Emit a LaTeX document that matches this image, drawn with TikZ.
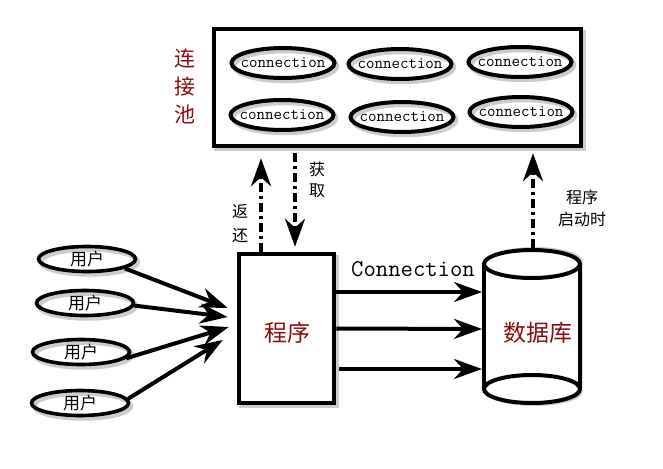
\documentclass[tikz,border=0pt]{standalone}
\usepackage{fontspec}
\newfontfamily\cjk{Noto Sans CJK SC}
\usetikzlibrary{arrows.meta,shapes.geometric}
\definecolor{dred}{RGB}{140,12,12}
\begin{document}
\begin{tikzpicture}[x=1pt,y=-1pt,
  shad/.style={preaction={draw=black,opacity=0.2,line width=4.5pt,transform canvas={xshift=2.5pt,yshift=-3pt}}},
  conn/.style={ellipse,draw,shad,line width=4pt,minimum width=103pt,minimum height=30pt,inner sep=0pt,
    label={[font=\ttfamily\fontsize{16.5}{18}\selectfont,inner sep=0pt]center:connection}},
  user/.style={ellipse,draw,shad,line width=3.6pt,minimum width=97pt,minimum height=25pt,inner sep=0pt},
  utext/.style={font=\cjk\fontsize{17}{18}\selectfont,inner sep=0pt},
  bigbox/.style={draw,shad,line width=4.5pt,inner sep=0pt,fill=white},
  arr/.style={line width=4pt,-{Stealth[length=28pt,width=20pt,inset=9pt]}},
  dda/.style={arr,dash pattern=on 9pt off 4pt on 3pt off 4pt},
  lab/.style={font=\cjk\fontsize{16}{22}\selectfont,align=center,inner sep=0pt},
  redlab/.style={font=\cjk\fontsize{23}{28}\selectfont,text=dred,inner sep=0pt}
]
\useasboundingbox (0,0) rectangle (663,468);
% connection pool
\node[bigbox,minimum width=367pt,minimum height=117pt] (pool) at (397.5,87.5) {};
\node[font=\cjk\fontsize{21}{28}\selectfont,text=dred,align=center,inner sep=0pt] (poollab) at (185,86) {连\\接\\池};
\node[conn] (c1) at (283,63) {};
\node[conn] (c2) at (400,64) {};
\node[conn] (c3) at (520,62) {};
\node[conn] (c4) at (282,115) {};
\node[conn] (c5) at (402,117) {};
\node[conn] (c6) at (521,112) {};
% program
\node[bigbox,minimum width=95pt,minimum height=149pt] (prog) at (286.5,328.5) {};
\node[redlab] (progt) at (287,333) {程序};
% database cylinder
\node[minimum width=100pt,minimum height=157pt,inner sep=0pt,outer sep=0pt] (db) at (532,326.5) {};
\begin{scope}[line width=4pt]
\fill[black,opacity=0.2] (486.5,261) -- (486.5,392) arc[start angle=180,end angle=360,x radius=48pt,y radius=14pt] -- (582.5,261) arc[start angle=0,end angle=180,x radius=48pt,y radius=14pt] -- cycle;
\fill[white] (484,264) -- (484,389) arc[start angle=180,end angle=360,x radius=48pt,y radius=14pt] -- (580,264) arc[start angle=0,end angle=180,x radius=48pt,y radius=14pt] -- cycle;
\draw (532,264) ellipse [x radius=48pt,y radius=14pt];
\draw (532,389) ellipse [x radius=48pt,y radius=14pt];
\draw (484,264) -- (484,389);
\draw (580,264) -- (580,389);
\end{scope}
\node[redlab] (dbt) at (538,333) {数据库};
% users
\node[user] (u1) at (87,259) {};
\node[user] (u2) at (85,303) {};
\node[user] (u3) at (81,352) {};
\node[user] (u4) at (80,403) {};
\node[utext] at (u1) {用户};
\node[utext] at (u2) {用户};
\node[utext] at (u3) {用户};
\node[utext] at (u4) {用户};
\draw[arr] (u1.-14) -- ([xshift=-9pt,yshift=20.5pt]prog.west);
\draw[arr] (u2.-3) -- ([xshift=-9pt,yshift=11.5pt]prog.west);
\draw[arr] (u3.-8) -- ([xshift=-8pt,yshift=1.5pt]prog.west);
\draw[arr] (u4.5) -- ([xshift=-14pt,yshift=-11.5pt]prog.west);
% program -> database
\draw[arr] ([yshift=36.5pt]prog.east) -- ([yshift=34.5pt]db.west);
\draw[arr] (prog.east) -- ([yshift=-2.5pt]db.west);
\draw[arr] ([xshift=3pt,yshift=-40.5pt]prog.east) -- ([yshift=-42.5pt]db.west);
\node[font=\ttfamily\fontsize{24}{26}\selectfont,inner sep=0pt] (connlab) at (413,269) {Connection};
% dashed arrows
\coordinate (xr) at (261,0);
\coordinate (xg) at (295,0);
\coordinate (xd) at (533,0);
\draw[dda,shorten >=10pt] (prog.north -| xr) -- (pool.south -| xr);
\draw[dda,shorten <=5pt,shorten >=5pt] (pool.south -| xg) -- (prog.north -| xg);
\draw[dda,shorten >=5pt] (db.north -| xd) -- (pool.south -| xd);
\node[lab,font=\cjk\fontsize{16}{24}\selectfont] (fh) at (240,224) {返\\还};
\node[lab,font=\cjk\fontsize{16}{21}\selectfont] (hq) at (317,180) {获\\取};
\node[lab] (qd) at (582,208) {程序\\启动时};
\end{tikzpicture}
\end{document}
